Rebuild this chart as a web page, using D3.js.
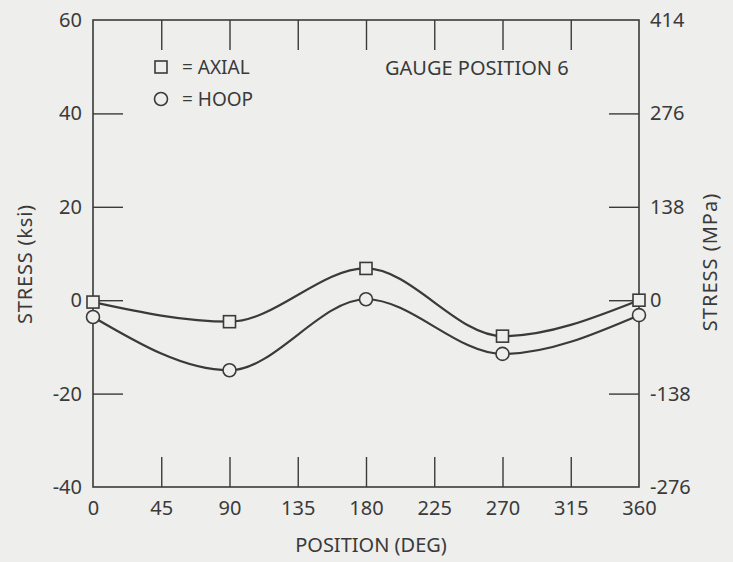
<!DOCTYPE html>
<html>
<head>
<meta charset="utf-8">
<script src="https://cdn.jsdelivr.net/npm/d3@7"></script>
<style>
  html, body { margin: 0; padding: 0; background: #eeeeec; }
  svg { display: block; }
  text { font-family: "Noto Sans", "DejaVu Sans", sans-serif; fill: #3a3a3a; }
</style>
</head>
<body>
<svg id="chart" width="733" height="562"></svg>
<script>
// Circumferential position of the gauge (degrees)
const positions = [0, 90, 180, 270, 360];
// Measured stress, ksi
const axialStress = [-0.4, -4.6, 6.8, -7.7, 0];
const hoopStress = [-3.6, -15, 0.2, -11.5, -3.2];

// Axis ticks
const xTickLabels = [0, 45, 90, 135, 180, 225, 270, 315, 360];
const xInnerTicks = [45, 90, 135, 180, 225, 270, 315];
const ksiTickLabels = [60, 40, 20, 0, -20, -40];
const ksiInnerTicks = [40, 20, 0, -20];
const mpaTickLabels = [414, 276, 138, 0, -138, -276];
const mpaInnerTicks = [276, 138, 0, -138];

const ink = "#3a3a3a";
const paper = "#eeeeec";
const plotL = 93, plotR = 639, plotT = 20, plotB = 487;
const fontSize = 20;
const fontStack = '"Noto Sans", "DejaVu Sans", sans-serif';

const svg = d3.select("#chart");

const x = d3.scaleLinear().domain([0, 360]).range([plotL, plotR]);
const y = d3.scaleLinear().domain([-40, 60]).range([plotB, plotT]);
const yMpa = d3.scaleLinear().domain([-276, 414]).range([plotB, plotT]);

// Frame
svg.append("rect")
  .attr("x", plotL).attr("y", plotT)
  .attr("width", plotR - plotL).attr("height", plotB - plotT)
  .attr("fill", "none").attr("stroke", ink).attr("stroke-width", 1.6);

const tickLen = 30;
const plain = d => String(d);

function styleAxis(g) {
  g.select(".domain").remove();
  g.selectAll(".tick line").attr("stroke", ink).attr("stroke-width", 1.4);
  g.selectAll(".tick text").attr("fill", ink).attr("font-size", fontSize)
    .style("font-family", fontStack);
}

// Bottom: inward ticks
svg.append("g").attr("transform", `translate(0,${plotB})`)
  .call(d3.axisBottom(x).tickValues(xInnerTicks).tickSize(-tickLen).tickFormat(""))
  .call(styleAxis);
// Bottom labels
svg.append("g").attr("transform", `translate(0,${plotB})`)
  .call(d3.axisBottom(x).tickValues(xTickLabels).tickSize(0).tickPadding(14).tickFormat(plain))
  .call(styleAxis);

// Top: inward ticks
svg.append("g").attr("transform", `translate(0,${plotT})`)
  .call(d3.axisTop(x).tickValues(xInnerTicks).tickSize(-tickLen).tickFormat(""))
  .call(styleAxis);

// Left (ksi)
svg.append("g").attr("transform", `translate(${plotL},0)`)
  .call(d3.axisLeft(y).tickValues(ksiInnerTicks).tickSize(-tickLen).tickFormat(""))
  .call(styleAxis);
svg.append("g").attr("transform", `translate(${plotL},0)`)
  .call(d3.axisLeft(y).tickValues(ksiTickLabels).tickSize(0).tickPadding(11).tickFormat(plain))
  .call(styleAxis);

// Right (MPa)
svg.append("g").attr("transform", `translate(${plotR},0)`)
  .call(d3.axisRight(yMpa).tickValues(mpaInnerTicks).tickSize(-tickLen).tickFormat(""))
  .call(styleAxis);
svg.append("g").attr("transform", `translate(${plotR},0)`)
  .call(d3.axisRight(yMpa).tickValues(mpaTickLabels).tickSize(0).tickPadding(11).tickFormat(plain))
  .call(styleAxis);

// Axis titles
svg.append("text").attr("x", 371).attr("y", 552)
  .attr("text-anchor", "middle").attr("font-size", fontSize).text("POSITION (DEG)");
svg.append("text").attr("transform", "translate(32,264) rotate(-90)")
  .attr("text-anchor", "middle").attr("font-size", fontSize)
  .attr("letter-spacing", 0.8).text("STRESS (ksi)");
svg.append("text").attr("transform", "translate(717,262) rotate(-90)")
  .attr("text-anchor", "middle").attr("font-size", fontSize)
  .attr("letter-spacing", 1).text("STRESS (MPa)");

// Annotation
svg.append("text").attr("x", 385).attr("y", 75)
  .attr("font-size", fontSize).text("GAUGE POSITION 6");

// Curves
const line = d3.line().x(d => x(d[0])).y(d => y(d[1])).curve(d3.curveMonotoneX);
const series = [
  { name: "AXIAL", values: axialStress, marker: "square" },
  { name: "HOOP", values: hoopStress, marker: "circle" }
];

series.forEach(s => {
  const pts = positions.map((p, i) => [p, s.values[i]]);
  svg.append("path").datum(pts)
    .attr("d", line).attr("fill", "none")
    .attr("stroke", ink).attr("stroke-width", 2.2);
});

function drawMarker(g, type, cx, cy) {
  if (type === "square") {
    g.append("rect").attr("x", cx - 6).attr("y", cy - 6)
      .attr("width", 12).attr("height", 12)
      .attr("fill", paper).attr("stroke", ink).attr("stroke-width", 1.6);
  } else {
    g.append("circle").attr("cx", cx).attr("cy", cy).attr("r", 6.5)
      .attr("fill", paper).attr("stroke", ink).attr("stroke-width", 1.6);
  }
}

series.forEach(s => {
  const g = svg.append("g");
  positions.forEach((p, i) => drawMarker(g, s.marker, x(p), y(s.values[i])));
});

// Legend
const legend = svg.append("g");
series.forEach((s, i) => {
  const ly = 67 + i * 32;
  drawMarker(legend, s.marker, 161, ly);
  legend.append("text").attr("x", 182).attr("y", ly).attr("dy", "0.36em")
    .attr("font-size", 19).text("= " + s.name);
});
</script>
</body>
</html>
